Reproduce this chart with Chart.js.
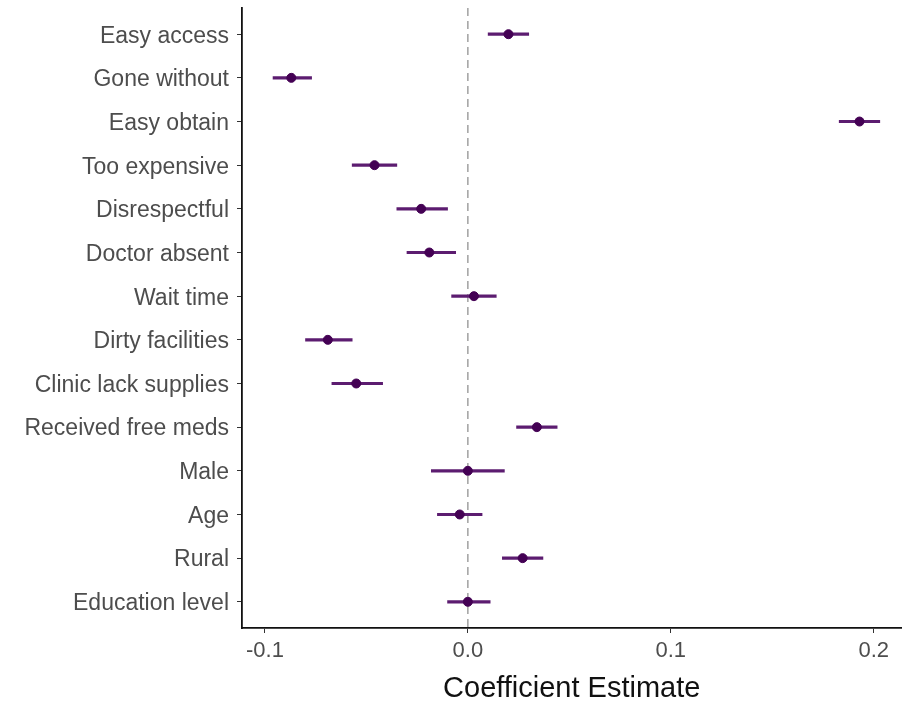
<!DOCTYPE html>
<html>
<head>
<meta charset="utf-8">
<script src="https://cdn.jsdelivr.net/npm/chart.js@4"></script>
<style>
  html, body { margin: 0; padding: 0; background: #fff; }
  #wrap { width: 907px; height: 703px; }
</style>
</head>
<body>
<div id="wrap"><canvas id="coef-chart" width="907" height="703"></canvas></div>
<script>
// variables, top to bottom
const terms = ['Easy access', 'Gone without', 'Easy obtain', 'Too expensive', 'Disrespectful',
    'Doctor absent', 'Wait time', 'Dirty facilities', 'Clinic lack supplies', 'Received free meds',
    'Male', 'Age', 'Rural', 'Education level'];
const estimates = [0.020, -0.087, 0.193, -0.046, -0.023, -0.019, 0.003, -0.069, -0.055, 0.034, 0.000, -0.004, 0.027, 0.000];
const lower = [0.010, -0.096, 0.183, -0.057, -0.035, -0.030, -0.008, -0.080, -0.067, 0.024, -0.018, -0.015, 0.017, -0.010];
const upper = [0.030, -0.077, 0.203, -0.035, -0.010, -0.006, 0.014, -0.057, -0.042, 0.044, 0.018, 0.007, 0.037, 0.011];
const xTicks = [-0.1, 0.0, 0.1, 0.2];
const refValue = 0;

const font = "'Liberation Sans', Arial, sans-serif";
const pos = terms.map((t, i) => i + 1);

const ctx = document.getElementById('coef-chart').getContext('2d');
const chart = new Chart(ctx, {
    data: {
        datasets: [
            {
                // dashed reference line at zero
                type: 'line',
                data: [{ x: refValue, y: 0.4 }, { x: refValue, y: terms.length + 0.6 }],
                borderColor: '#a0a0a0',
                borderWidth: 1.5,
                borderDash: [8, 5],
                pointRadius: 0,
                order: 3
            },
            {
                // confidence intervals as thin floating bars
                type: 'bar',
                data: pos.map((p, i) => ({ x: [lower[i], upper[i]], y: p })),
                backgroundColor: '#5c1c70',
                barThickness: 2.5,
                order: 2
            },
            {
                type: 'scatter',
                data: pos.map((p, i) => ({ x: estimates[i], y: p })),
                backgroundColor: '#440154',
                borderColor: '#440154',
                pointRadius: 4.5,
                order: 1
            }
        ]
    },
    options: {
        indexAxis: 'y',
        responsive: false,
        animation: false,
        layout: { padding: { top: 8, right: 2, left: 0, bottom: 0 } },
        plugins: { legend: { display: false }, tooltip: { enabled: false } },
        scales: {
            x: {
                type: 'linear',
                min: -0.1113,
                max: 0.2137,
                afterBuildTicks: (scale) => { scale.ticks = xTicks.map(v => ({ value: v })); },
                afterFit: (scale) => { scale.height = 75; },
                grid: { display: true, drawOnChartArea: false, drawTicks: true, tickLength: 5, color: '#333', offset: false },
                border: { display: true, color: '#111', width: 1.8 },
                ticks: {
                    color: '#4d4d4d',
                    font: { family: font, size: 22 },
                    padding: 5,
                    callback: (v) => v.toFixed(1)
                },
                title: {
                    display: true,
                    text: 'Coefficient Estimate',
                    color: '#111',
                    font: { family: font, size: 29 },
                    padding: { top: 0, bottom: -3 }
                }
            },
            y: {
                type: 'linear',
                reverse: true,
                offset: false,
                min: 0.4,
                max: terms.length + 0.6,
                afterBuildTicks: (scale) => { scale.ticks = pos.map(v => ({ value: v })); },
                afterFit: (scale) => {
                    scale.width = 242;
                    scale.paddingTop = 0;
                    scale.paddingBottom = 0;
                },
                grid: { display: true, drawOnChartArea: false, drawTicks: true, tickLength: 5, color: '#333', offset: false },
                border: { display: true, color: '#111', width: 1.8 },
                ticks: {
                    color: '#4d4d4d',
                    font: { family: font, size: 23 },
                    padding: 8,
                    labelOffset: 2,
                    callback: (v) => terms[v - 1]
                }
            }
        }
    }
});
</script>
</body>
</html>
